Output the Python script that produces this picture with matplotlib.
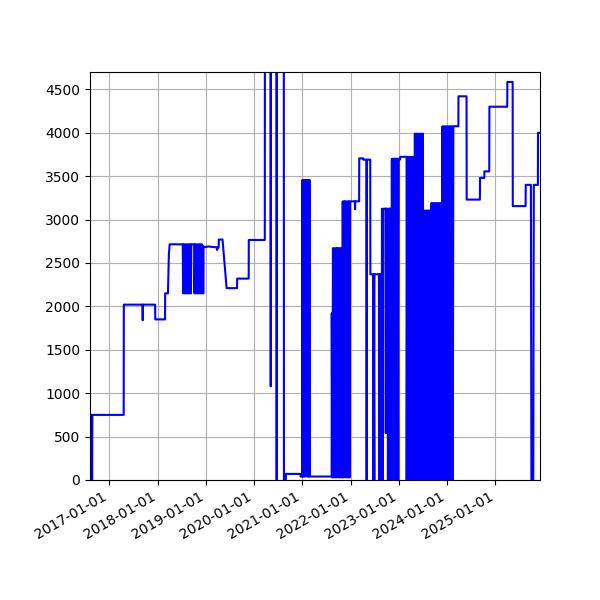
import matplotlib
matplotlib.use("Agg")
import matplotlib.pyplot as plt
import matplotlib.dates as mdates
from matplotlib.ticker import MultipleLocator
import pandas as pd

# readings, one value per date
dates = [
    "2016-08-08", "2016-08-18", "2016-08-20", "2016-08-24", "2016-08-26", "2017-04-20",
    "2017-04-21",
    "2017-09-10", "2017-09-11", "2017-09-12", "2017-12-14", "2017-12-15", "2018-02-27",
    "2018-02-28", "2018-03-21", "2018-03-28", "2018-04-03", "2018-07-11",
    "2018-07-14", "2018-07-19", "2018-07-24", "2018-07-29", "2018-08-03", "2018-08-08",
    "2018-08-13", "2018-08-18", "2018-08-23", "2018-08-28", "2018-09-02", "2018-09-07",
    "2018-09-11", "2018-09-14",
    "2018-10-05", "2018-10-08", "2018-10-13", "2018-10-18", "2018-10-23", "2018-10-28",
    "2018-11-02", "2018-11-07", "2018-11-12", "2018-11-17", "2018-11-22", "2018-11-27",
    "2018-12-02", "2018-12-07", "2018-12-11", "2018-12-13", "2018-12-15",
    "2019-01-20", "2019-03-25", "2019-03-28", "2019-04-02", "2019-04-09", "2019-04-10",
    "2019-05-08", "2019-06-08", "2019-08-26", "2019-08-27", "2019-11-22", "2019-11-23",
    "2020-03-23", "2020-03-24", "2020-05-05", "2020-05-07", "2020-05-09", "2020-06-20",
    "2020-06-21", "2020-06-22", "2020-08-14", "2020-08-15", "2020-08-29", "2020-08-30",
    "2020-12-18", "2020-12-19", "2020-12-31",
    "2021-01-01", "2021-01-05", "2021-01-09", "2021-01-13", "2021-01-17", "2021-01-21",
    "2021-01-25", "2021-01-28", "2021-02-01", "2021-02-05", "2021-02-09", "2021-02-13",
    "2021-02-17", "2021-02-21", "2021-02-25", "2021-02-28", "2021-08-11",
    "2021-08-12", "2021-08-16", "2021-08-21", "2021-08-26", "2021-08-31", "2021-09-05",
    "2021-09-10", "2021-09-15", "2021-09-19", "2021-09-22", "2021-09-26", "2021-10-01",
    "2021-10-06", "2021-10-11", "2021-10-16", "2021-10-21", "2021-10-26", "2021-10-31",
    "2021-11-03", "2021-11-08", "2021-11-13", "2021-11-16", "2021-11-20", "2021-11-25",
    "2021-11-30", "2021-12-05", "2021-12-10", "2021-12-15", "2021-12-20", "2021-12-25",
    "2021-12-28",
    "2022-02-03", "2022-02-04", "2022-02-06", "2022-03-07", "2022-03-08", "2022-04-07",
    "2022-04-08", "2022-05-02", "2022-05-03", "2022-05-04", "2022-05-30", "2022-05-31",
    "2022-06-23", "2022-06-24", "2022-06-25", "2022-06-30", "2022-07-01", "2022-08-04",
    "2022-08-05", "2022-08-06", "2022-08-19", "2022-08-20", "2022-08-21", "2022-08-24",
    "2022-08-25", "2022-08-27", "2022-09-02", "2022-09-05", "2022-09-24", "2022-09-25",
    "2022-09-26", "2022-10-10", "2022-10-11", "2022-10-15", "2022-10-18", "2022-10-20",
    "2022-10-27", "2022-10-28", "2022-10-29", "2022-11-05", "2022-11-06", "2022-11-10",
    "2022-11-14", "2022-11-18", "2022-12-03", "2022-12-04", "2022-12-05", "2022-12-21",
    "2022-12-22", "2022-12-24", "2022-12-28", "2023-01-01", "2023-01-08", "2023-01-10",
    "2023-01-14", "2023-03-01",
    "2023-03-02", "2023-03-06", "2023-03-12", "2023-03-18", "2023-03-24", "2023-03-30",
    "2023-04-05", "2023-04-11", "2023-04-17", "2023-04-23", "2023-04-29", "2023-05-03",
    "2023-05-09", "2023-05-15", "2023-05-21", "2023-05-27", "2023-06-02", "2023-06-08",
    "2023-06-14", "2023-06-20", "2023-06-26", "2023-07-02", "2023-07-05", "2023-07-08",
    "2023-07-14", "2023-07-20", "2023-07-26", "2023-08-01", "2023-08-07", "2023-08-13",
    "2023-08-19", "2023-08-25", "2023-08-31", "2023-09-06", "2023-09-12", "2023-09-18",
    "2023-09-24", "2023-09-30", "2023-10-06", "2023-10-12", "2023-10-18", "2023-10-24",
    "2023-10-30", "2023-11-05", "2023-11-11", "2023-11-17", "2023-11-21", "2023-11-27",
    "2023-11-28", "2023-12-04", "2023-12-10", "2023-12-16", "2023-12-22", "2023-12-28",
    "2024-01-03", "2024-01-09", "2024-01-15", "2024-01-21", "2024-01-27", "2024-02-02",
    "2024-02-08", "2024-02-14", "2024-02-18",
    "2024-03-27", "2024-03-28", "2024-05-28", "2024-05-29", "2024-09-06", "2024-09-07",
    "2024-10-09", "2024-10-10", "2024-11-16", "2024-11-17", "2025-04-01", "2025-04-02",
    "2025-05-12", "2025-05-13", "2025-08-18", "2025-08-19", "2025-09-27", "2025-10-01",
    "2025-10-15", "2025-10-19", "2025-11-19", "2025-11-20", "2025-12-05",
]
values = [
    0, 0, 750, 0, 750, 750,
    2020,
    2020, 1840, 2020, 2020, 1850, 1850,
    2150, 2150, 2600, 2715, 2715,
    2150, 2715, 2150, 2715, 2150, 2715,
    2150, 2715, 2150, 2715, 2150, 2715,
    2150, 2715,
    2715, 2150, 2715, 2150, 2715, 2150,
    2715, 2150, 2715, 2150, 2715, 2150,
    2715, 2150, 2700, 2150, 2680,
    2690, 2680, 2650, 2680, 2680, 2770,
    2770, 2210, 2210, 2320, 2320, 2765,
    2765, 5500, 5500, 1080, 5500, 5500,
    0, 5500, 5500, 0, 0, 70,
    70, 40, 40,
    3455, 40, 3455, 40, 3455, 40,
    3455, 460, 3455, 40, 3455, 40,
    3455, 40, 3455, 40, 40,
    1920, 30, 2670, 30, 2670, 30,
    2670, 30, 2670, 440, 2670, 30,
    2670, 30, 2670, 30, 2670, 30,
    3210, 30, 3210, 440, 3210, 30,
    3210, 30, 3210, 30, 3210, 30,
    3210,
    3210, 3120, 3210, 3210, 3705, 3705,
    3690, 3690, 0, 3690, 3690, 2370,
    2370, 0, 2370, 0, 2370, 2370,
    0, 2370, 2370, 0, 2370, 2370,
    0, 3125, 0, 3125, 3125, 540,
    3125, 3125, 0, 3125, 0, 3125,
    3125, 0, 3125, 3125, 0, 3700,
    0, 3700, 3700, 0, 3700, 3700,
    0, 3700, 0, 3700, 3700, 3690,
    3723, 3723,
    0, 3723, 0, 3723, 0, 3723,
    0, 3723, 0, 3723, 0, 3990,
    0, 3990, 0, 3990, 0, 3990,
    0, 3990, 0, 3990, 0, 3105,
    0, 3105, 0, 3105, 0, 3105,
    0, 3105, 0, 3190, 0, 3190,
    0, 3190, 0, 3190, 0, 3190,
    0, 3190, 0, 3190, 0, 0,
    4075, 0, 4075, 0, 4075, 0,
    4075, 0, 4075, 0, 4075, 0,
    4075, 0, 4075,
    4075, 4420, 4420, 3230, 3230, 3480,
    3480, 3555, 3555, 4300, 4300, 4585,
    4585, 3155, 3155, 3400, 3400, 0,
    0, 3400, 3400, 4000, 4000,
]

x = pd.to_datetime(dates)

fig, ax = plt.subplots(figsize=(6, 6), dpi=100)
ax.plot(x, values, color="blue")
ax.xaxis.set_major_locator(mdates.YearLocator())
ax.xaxis.set_major_formatter(mdates.DateFormatter("%Y-%m-%d"))
ax.yaxis.set_major_locator(MultipleLocator(500))
ax.set_xlim(x[0], x[-1])
ax.set_ylim(0, 4700)
ax.grid(True)
fig.autofmt_xdate()
fig.subplots_adjust(left=0.15)
fig.savefig("out.png")
